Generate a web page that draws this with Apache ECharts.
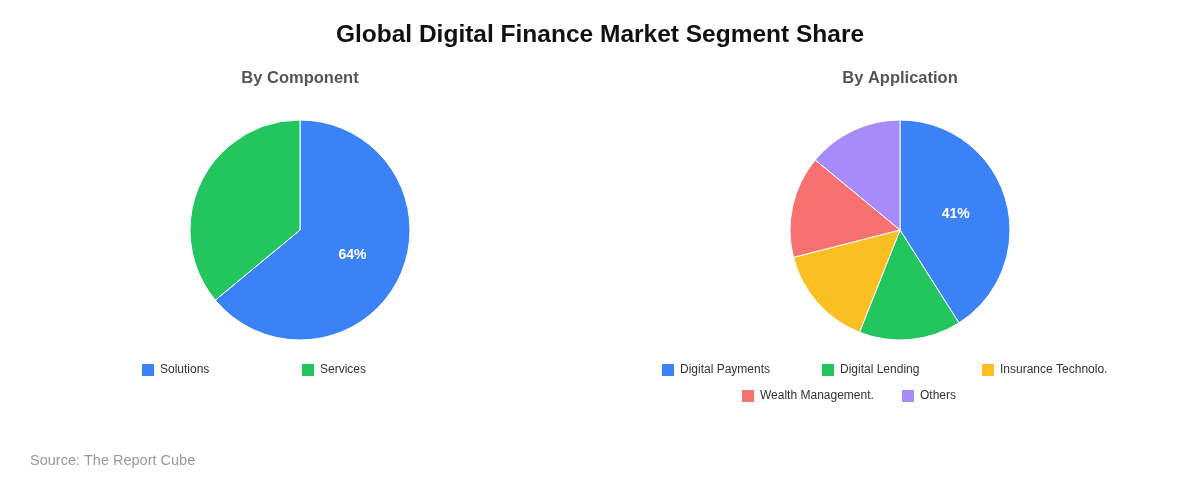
<!DOCTYPE html>
<html>
<head>
<meta charset="utf-8">
<script src="https://cdn.jsdelivr.net/npm/echarts@6/dist/echarts.min.js"></script>
<style>
  html, body { margin: 0; padding: 0; background: #fff; }
  #main { width: 1200px; height: 480px; }
</style>
</head>
<body>
<div id="main"></div>
<script>
const componentNames = ['Solutions', 'Services'];
const componentValues = [64, 36];
const applicationNames = ['Digital Payments', 'Digital Lending', 'Insurance Technology', 'Wealth Management & Advisory', 'Others'];
const applicationValues = [41, 15, 15, 15, 14];
const colors = ['#3B82F6', '#22C55E', '#FBBF24', '#F87171', '#A78BFA'];

const font = 'Liberation Sans';
const chart = echarts.init(document.getElementById('main'));

function toData(names, values) {
  return names.map((n, i) => ({ name: n, value: values[i], itemStyle: { color: colors[i] } }));
}

// long legend names are cut to 18 chars
function shortName(name) {
  return name.length > 18 ? name.slice(0, 18).trim() + '.' : name;
}

// every legend entry sits in a fixed 160px slot, rows centred under the pie
function legendRow(names, centerX, top) {
  const slot = 160;
  const start = centerX - names.length * slot / 2;
  return names.map((n, i) => ({
    data: [n],
    left: start + i * slot,
    top: top,
    padding: 0,
    itemWidth: 14,
    itemHeight: 14,
    icon: 'rect',
    formatter: shortName,
    textStyle: { fontFamily: font, fontSize: 12, color: '#333' }
  }));
}

function pie(center, data) {
  return {
    type: 'pie',
    radius: 110,
    center: center,
    startAngle: 90,
    clockwise: true,
    data: data,
    itemStyle: { borderColor: '#fff', borderWidth: 1 },
    label: {
      show: true,
      position: 'inside',
      color: '#fff',
      fontFamily: font,
      fontSize: 14,
      fontWeight: 'bold',
      formatter: p => p.percent >= 40 ? Math.round(p.percent) + '%' : ''
    },
    labelLine: { show: false },
    emphasis: { disabled: true }
  };
}

const option = {
  animation: false,
  title: [
    {
      text: 'Global Digital Finance Market Segment Share',
      left: 'center',
      top: 23,
      padding: 0,
      textStyle: { fontFamily: font, fontSize: 24.5, fontWeight: 'bold', color: '#111' }
    },
    {
      text: 'By Component',
      left: 300,
      textAlign: 'center',
      top: 70,
      padding: 0,
      textStyle: { fontFamily: font, fontSize: 16.5, fontWeight: 'bold', color: '#555' }
    },
    {
      text: 'By Application',
      left: 900,
      textAlign: 'center',
      top: 70,
      padding: 0,
      textStyle: { fontFamily: font, fontSize: 16.5, fontWeight: 'bold', color: '#555' }
    },
    {
      text: 'Source: The Report Cube',
      left: 30,
      top: 453,
      padding: 0,
      textStyle: { fontFamily: font, fontSize: 14.5, fontWeight: 'normal', color: '#999' }
    }
  ],
  legend: [].concat(
    legendRow(componentNames, 300, 362),
    legendRow(applicationNames.slice(0, 3), 900, 362),
    legendRow(applicationNames.slice(3), 900, 388)
  ),
  series: [
    pie([300, 230], toData(componentNames, componentValues)),
    pie([900, 230], toData(applicationNames, applicationValues))
  ]
};

chart.setOption(option);
</script>
</body>
</html>
